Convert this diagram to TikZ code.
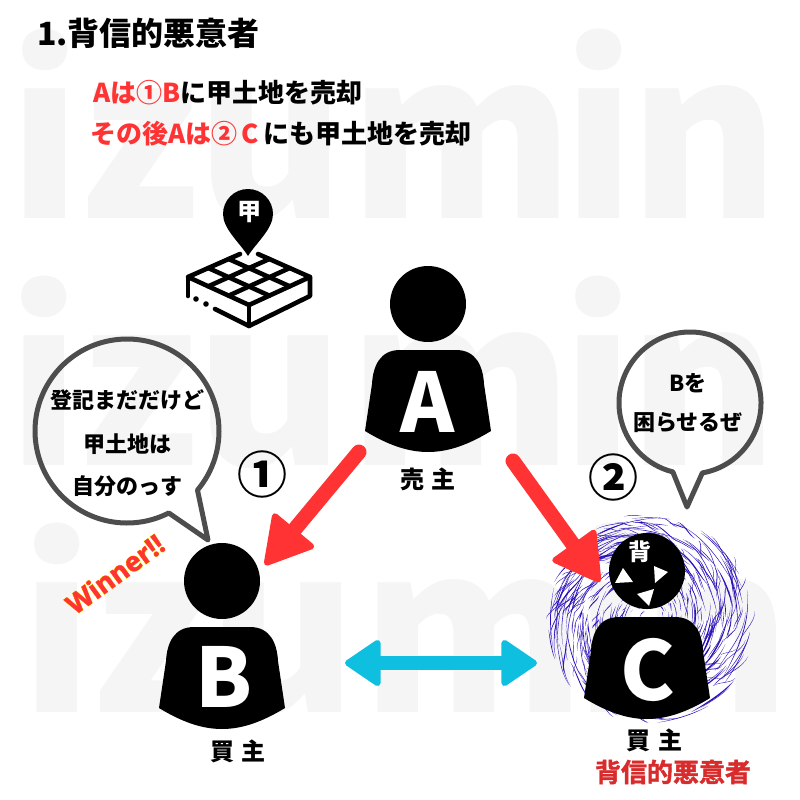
\documentclass[tikz,border=0pt]{standalone}
\usepackage{fontspec}
\usetikzlibrary{arrows.meta,calc}
\setmainfont{Noto Sans CJK JP}
\newfontfamily\jpfat{Noto Sans CJK JP Bold}[FakeBold=1.6]
\newfontfamily\winfont{Open Sans Bold}[FakeBold=1.2]
\newfontfamily\winglow{Open Sans Bold}[FakeBold=4]
\definecolor{wm}{HTML}{F5F5F5}
\definecolor{redc}{HTML}{FF3333}
\definecolor{bluec}{HTML}{0FBFE0}
\definecolor{swirl}{HTML}{2A10B8}
\definecolor{bub}{HTML}{4D4D4D}
\newcommand{\wmword}{i\kern-3pt z\kern-3pt u\kern4pt m\kern-12pt i\kern-6pt n}
\tikzset{
 txt/.style={inner sep=0pt,font=\bfseries,text=black},
 wmark/.style={inner sep=0pt,anchor=base west,font=\bfseries\fontsize{228}{228}\selectfont,text=wm},
 sz/.style={font=\bfseries\fontsize{#1}{#1}\selectfont},
 letter/.style={inner sep=0pt,text=white,font=\bfseries\fontsize{82}{82}\selectfont},
 bubble/.style={draw=bub,line width=5pt,line join=round},
 ink/.style={draw=black,line width=4.6pt,line cap=round,line join=round},
 redarrow/.style={draw=redc,line width=15pt,line cap=round,-{Triangle[round,length=50pt,width=56pt,line width=6pt]}},
 bluearrow/.style={draw=bluec,line width=14pt,{Triangle[round,length=38pt,width=50pt,line width=6pt]}-{Triangle[round,length=38pt,width=50pt,line width=6pt]}},
}
\newcommand{\persona}[2]{%
 \fill[black] (#1,#2) circle[radius=38];
 \fill[black,line join=round] ($(#1,#2)+(-28,46)$) -- ($(#1,#2)+(28,46)$)
   .. controls ($(#1,#2)+(48,46)$) and ($(#1,#2)+(55,62)$) .. ($(#1,#2)+(56,80)$)
   -- ($(#1,#2)+(63,127)$)
   .. controls ($(#1,#2)+(40,141)$) and ($(#1,#2)+(20,148)$) .. ($(#1,#2)+(0,148)$)
   .. controls ($(#1,#2)+(-20,148)$) and ($(#1,#2)+(-40,141)$) .. ($(#1,#2)+(-63,127)$)
   -- ($(#1,#2)+(-56,80)$)
   .. controls ($(#1,#2)+(-55,62)$) and ($(#1,#2)+(-48,46)$) .. ($(#1,#2)+(-28,46)$) -- cycle;
}
\begin{document}
\begin{tikzpicture}[x=1pt,y=1pt,yscale=-1]
\useasboundingbox (0,0) rectangle (800,800);
\fill[white] (0,0) rectangle (800,800);
% watermark
\node[wmark] (wm1) at (8,218) {\wmword};
\node[wmark] (wm2) at (7,465) {\wmword};
\node[wmark] (wm3) at (20,712) {\wmword};
% title and text
\node[txt,sz=32,anchor=west] (title) at (37,33) {1.背信的悪意者};
\node[txt,sz=26,anchor=west] (line1) at (93,93) {\textcolor{redc}{Aは①B}に甲土地を売却};
\node[txt,sz=26,anchor=west] (line2) at (90,134) {\textcolor{redc}{その後Aは②\,C\,}にも甲土地を売却};
% pin
\fill[black] (248,256) .. controls (240,243) and (223,229) .. (223,214)
   arc[start angle=180,end angle=360,radius=25]
   .. controls (273,229) and (256,243) .. (248,256) -- cycle;
\node[txt,text=white,sz=24] (pin) at (249,212) {甲};
% land icon
\coordinate (T) at (249,250); \coordinate (L) at (188,277);
\coordinate (R) at (310,277); \coordinate (Bt) at (249,305);
\draw[ink] (240,254) -- (L) -- (Bt) -- (R) -- (258,254);
\foreach \f in {0.333,0.667}{
  \draw[ink] ($(T)!\f!(R)$) -- ($(L)!\f!(Bt)$);
  \draw[ink] ($(T)!\f!(L)$) -- ($(R)!\f!(Bt)$);
}
\draw[ink] (L) -- (188,296);
\draw[ink] (R) -- (310,296) -- (249,326) -- (215,309);
\draw[ink] (Bt) -- (249,326);
\fill[black] (196,299) circle[radius=2.8] (206,304) circle[radius=2.8];
% swirl
\pgfmathsetseed{23}
\foreach \i in {1,...,620}{
  \pgfmathsetmacro{\rr}{106*pow(0.03+0.97*rnd,0.7)}
  \pgfmathsetmacro{\aa}{360*rnd}
  \pgfmathsetmacro{\dd}{8+52*rnd*rnd}
  \pgfmathsetmacro{\ww}{0.35+1.7*rnd*rnd*rnd*rnd}
  \pgfmathsetmacro{\re}{\rr*(1-0.14*rnd)}
  \pgfmathsetmacro{\ra}{\aa+\dd/3}
  \pgfmathsetmacro{\rb}{\aa+2*\dd/3}
  \pgfmathsetmacro{\rc}{\aa+\dd}
  \fill[swirl] ($(650,619)+(\aa:\rr)$)
     .. controls ($(650,619)+(\ra:\rr+\ww)$) and ($(650,619)+(\rb:\re+\ww)$) .. ($(650,619)+(\rc:\re)$)
     .. controls ($(650,619)+(\rb:\re-\ww)$) and ($(650,619)+(\ra:\rr-\ww)$) .. cycle;
}
% persons
\persona{428}{304}
\persona{222}{581}
\persona{647}{571}
\node[letter] (A) at (428,402) {A};
\node[letter] (B) at (224,677) {B};
\node[letter] (C) at (648,670) {C};
% badge on C
\fill[white] (623,568) -- (615,583) -- (633,582) -- cycle;
\fill[white] (654,566) -- (668,572) -- (655,583) -- cycle;
\fill[white] (654,589) -- (637,594) -- (649,606) -- cycle;
\node[txt,text=white,sz=23] (badge) at (640,552) {背};
% labels
\node[txt,sz=24] (seller) at (428,479) {売\hspace{8pt}主};
\node[txt,sz=24] (buyerB) at (238,751) {買\hspace{8pt}主};
\node[txt,sz=24] (buyerC) at (654,740) {買\hspace{8pt}主};
\node[inner sep=0pt,text=redc!85!black,font=\jpfat\fontsize{26}{26}\selectfont] (bad) at (673,772) {背信的悪意者};
\node[inner sep=0pt,rotate=36,font=\winfont\fontsize{27}{27}\selectfont] (win) at (115,574)
  {\rlap{\winglow\textcolor{yellow!90!orange}{Winner!!}}\textcolor{redc}{Winner!!}};
\node[txt,sz=50] (n1) at (262,474) {①};
\node[txt,sz=50] (n2) at (613,477) {②};
% bubbles
\draw[bubble] (127,431) ++(40:92) arc[start angle=40,end angle=-297,radius=92] -- (208,540) -- cycle;
\draw[bubble] (690,403) ++(80:71) arc[start angle=80,end angle=-256,radius=71] -- (687,507) -- cycle;
\node[txt,sz=22] (b1) at (127,400) {登記まだだけど};
\node[txt,sz=22] (b2) at (127,444) {甲土地は};
\node[txt,sz=22] (b3) at (127,486) {自分のっす};
\node[txt,sz=22] (c1) at (688,383) {Bを};
\node[txt,sz=22] (c2) at (688,423) {困らせるぜ};
% arrows
\coordinate (a1s) at (359,452); \coordinate (a1e) at (265,565);
\coordinate (a2s) at (513,461); \coordinate (a2e) at (600,582);
\coordinate (bbL) at (345,663); \coordinate (bbR) at (537,663);
\draw[redarrow] (a1s) -- (a1e);
\draw[redarrow] (a2s) -- (a2e);
\draw[bluearrow] (bbL) -- (bbR);
\end{tikzpicture}
\end{document}
